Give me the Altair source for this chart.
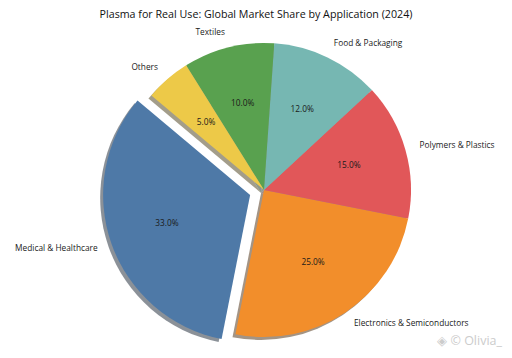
import math
import altair as alt
import pandas as pd

# ---- data ----
apps = ["Medical & Healthcare", "Electronics & Semiconductors", "Polymers & Plastics",
        "Food & Packaging", "Textiles", "Others"]
shares = [33, 25, 15, 12, 10, 5]
explode = [0.1, 0, 0, 0, 0, 0]
colors = ["#4e79a7", "#f28e2b", "#e15759", "#76b7b2", "#59a14f", "#edc948"]
title_text = "Plasma for Real Use: Global Market Share by Application (2024)"
watermark = "◈ © Olivia_"

START_ANGLE = 140  # degrees, counter-clockwise from 3 o'clock
FONT = "Open Sans"

# ---- layout ----
TOP = 24
W, H = 496, 342 - TOP
R = 147
CX, CY = 256, 182 - TOP

df = pd.DataFrame({"app": apps, "share": shares, "explode": explode, "color": colors})
total = df["share"].sum()
cum = df["share"].cumsum()
df["a0"] = START_ANGLE + 360 * (cum - df["share"]) / total
df["a1"] = START_ANGLE + 360 * cum / total
df["mid"] = (df["a0"] + df["a1"]) / 2
rad = df["mid"].map(math.radians)
df["cx"] = df["explode"] * rad.map(math.cos)
df["cy"] = df["explode"] * rad.map(math.sin)
df["t0"] = (90 - df["a1"]).map(math.radians)
df["t1"] = (90 - df["a0"]).map(math.radians)
df["sx"] = df["cx"] - 0.02
df["sy"] = df["cy"] - 0.02
df["lx"] = df["cx"] + 1.1 * rad.map(math.cos)
df["ly"] = df["cy"] + 1.1 * rad.map(math.sin)
df["px"] = df["cx"] + 0.6 * rad.map(math.cos)
df["py"] = df["cy"] + 0.6 * rad.map(math.sin)
df["pct"] = [f"{s / total * 100:.1f}%" for s in df["share"]]


def shade(h):
    r, g, b = (int(h[i:i + 2], 16) for i in (1, 3, 5))
    return "#%02x%02x%02x" % (int(0.3 * r), int(0.3 * g), int(0.3 * b))


df["scolor"] = [shade(c) for c in df["color"]]

xs = alt.Scale(domain=[-1, 1], range=[CX - R, CX + R], zero=False, nice=False)
ys = alt.Scale(domain=[-1, 1], range=[CY + R, CY - R], zero=False, nice=False)

base = alt.Chart(df)

shadow = base.mark_arc(radius=R, opacity=0.5).encode(
    x=alt.X("sx:Q", scale=xs, axis=None),
    y=alt.Y("sy:Q", scale=ys, axis=None),
    theta=alt.Theta("t0:Q", scale=None),
    theta2="t1:Q",
    color=alt.Color("scolor:N", scale=None),
)

wedges = base.mark_arc(radius=R).encode(
    x=alt.X("cx:Q", scale=xs, axis=None),
    y=alt.Y("cy:Q", scale=ys, axis=None),
    theta=alt.Theta("t0:Q", scale=None),
    theta2="t1:Q",
    color=alt.Color("color:N", scale=None),
)

TXT = dict(fontSize=8.3, font=FONT, color="#1a1a1a")

lab_r = base.transform_filter("datum.lx > 0").mark_text(
    align="left", baseline="middle", **TXT
).encode(x=alt.X("lx:Q", scale=xs, axis=None), y=alt.Y("ly:Q", scale=ys, axis=None), text="app:N")

lab_l = base.transform_filter("datum.lx <= 0").mark_text(
    align="right", baseline="middle", **TXT
).encode(x=alt.X("lx:Q", scale=xs, axis=None), y=alt.Y("ly:Q", scale=ys, axis=None), text="app:N")

pcts = base.mark_text(
    align="center", baseline="middle", **TXT
).encode(x=alt.X("px:Q", scale=xs, axis=None), y=alt.Y("py:Q", scale=ys, axis=None), text="pct:N")

wm = alt.Chart(pd.DataFrame({"t": [watermark]})).mark_text(
    align="right", baseline="middle", fontSize=12.5, font=FONT, color="#cccccc"
).encode(x=alt.value(W - 2), y=alt.value(H - 9), text="t:N")

chart = alt.layer(shadow, wedges, lab_r, lab_l, pcts, wm).properties(
    width=W, height=H,
    title=alt.TitleParams(title_text, fontSize=10.7, font=FONT, fontWeight="normal",
                          color="#111111", anchor="middle", frame="group", offset=7),
    autosize=alt.AutoSizeParams(type="none"),
    padding={"left": 0, "top": TOP, "right": 0, "bottom": 0},
).configure_view(stroke=None)

chart.save("out.html", embed_options={"renderer": "svg", "actions": False})
